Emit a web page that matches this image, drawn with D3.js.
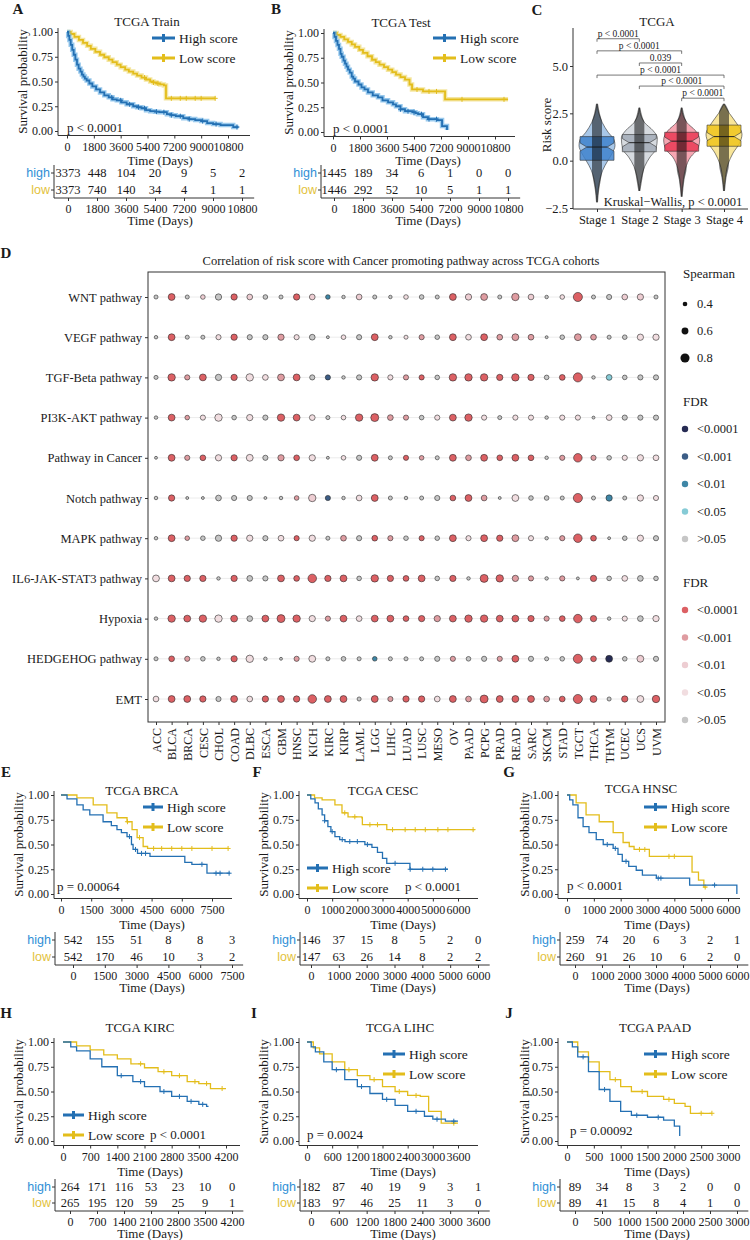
<!DOCTYPE html>
<html><head><meta charset="utf-8">
<script src="https://cdn.jsdelivr.net/npm/d3@7"></script>
<style>body{margin:0;background:#fff}svg{display:block}</style>
</head><body>
<svg id="fig" width="750" height="1240"></svg>
<script>
// ---------- survival data (time in days, survival) ----------
const ticksA=[0,1800,3600,5400,7200,9000,10800];
const highA=[[0,1],[80,0.96],[160,0.92],[250,0.87],[350,0.82],[450,0.77],[560,0.72],[670,0.67],[780,0.63],[900,0.6],[1000,0.57],[1100,0.55],[1200,0.53],[1320,0.51],[1500,0.48],[1700,0.45],[1950,0.42],[2215,0.39],[2500,0.36],[2800,0.34],[3050,0.32],[3340,0.31],[3650,0.29],[4000,0.27],[4440,0.25],[4700,0.24],[5000,0.23],[5300,0.21],[5580,0.2],[5900,0.195],[6200,0.19],[6700,0.17],[7000,0.16],[7300,0.15],[7800,0.13],[8200,0.12],[8600,0.11],[9000,0.1],[9400,0.08],[9800,0.07],[10300,0.06],[11150,0.04],[11500,0.04]];
const lowA=[[0,1],[250,0.98],[500,0.95],[800,0.92],[1075,0.89],[1350,0.86],[1600,0.83],[1900,0.8],[2215,0.77],[2500,0.745],[2800,0.72],[3050,0.695],[3340,0.67],[3600,0.645],[3900,0.62],[4150,0.6],[4440,0.58],[4700,0.56],[5000,0.54],[5300,0.52],[5580,0.5],[5800,0.49],[6000,0.48],[6250,0.47],[6500,0.46],[6640,0.33],[9940,0.33]];
const censHighA=[3000,3600,4200,4800,5200,6000,6500,7000,7600,8200,9100,10000,11400];
const censLowA=[5200,5800,6100,7000,7600,8000,8600,9000,9940];
const riskHighA=[3373,448,104,20,9,5,2], riskLowA=[3373,740,140,34,4,1,1];

const highB=[[0,1],[100,0.96],[200,0.92],[300,0.88],[400,0.84],[500,0.79],[580,0.76],[700,0.72],[800,0.69],[900,0.66],[1000,0.63],[1120,0.6],[1250,0.56],[1350,0.54],[1467,0.51],[1700,0.48],[1900,0.45],[2100,0.43],[2333,0.4],[2650,0.37],[3000,0.35],[3300,0.32],[3670,0.3],[4000,0.28],[4200,0.26],[4500,0.23],[4800,0.21],[5300,0.2],[5500,0.19],[5670,0.18],[6000,0.15],[6330,0.13],[6930,0.12],[7270,0.06],[7600,0.02]];
const lowB=[[0,1],[250,0.98],[500,0.96],[750,0.935],[1000,0.91],[1250,0.885],[1467,0.86],[1750,0.83],[2000,0.8],[2300,0.765],[2600,0.73],[2850,0.705],[3100,0.68],[3400,0.655],[3670,0.63],[3950,0.605],[4200,0.58],[4500,0.555],[4800,0.53],[5100,0.48],[5270,0.43],[6000,0.41],[6600,0.41],[7470,0.33],[11670,0.33]];
const censHighB=[4500,5000,5400,5900,6400,6900];
const censLowB=[5600,6400,6900,8600,11400];
const riskHighB=[1445,189,34,6,1,0,0], riskLowB=[1446,292,52,10,5,1,1];

const ticksE=[0,1500,3000,4500,6000,7500];
const highE=[[0,1],[300,0.96],[790,0.9],[1100,0.85],[1430,0.8],[2090,0.73],[2500,0.69],[2780,0.65],[3000,0.62],[3280,0.58],[3500,0.5],[3580,0.45],[3800,0.41],[4420,0.38],[6150,0.32],[6500,0.3],[7250,0.21],[8400,0.21]];
const lowE=[[0,1],[790,0.97],[1600,0.9],[2280,0.82],[2780,0.77],[3280,0.73],[3530,0.65],[3780,0.57],[4080,0.48],[4300,0.46],[8300,0.46]];
const censHighE=[3400,3700,4000,4200,7000,7700,7900,8350];
const censLowE=[3300,3900,4600,5000,5500,6000,6500,7500,8300];
const riskHighE=[542,155,51,8,8,3], riskLowE=[542,170,46,10,3,2];

const ticksF=[0,1000,2000,3000,4000,5000,6000];
const highF=[[0,1],[150,0.96],[320,0.92],[450,0.86],[600,0.8],[700,0.74],[830,0.68],[950,0.63],[1110,0.58],[1300,0.55],[1510,0.53],[2300,0.5],[2580,0.47],[2800,0.42],[3000,0.36],[3170,0.31],[4090,0.25],[5600,0.25]];
const lowF=[[0,1],[300,0.97],[600,0.95],[1110,0.9],[1390,0.82],[1630,0.78],[2180,0.77],[2200,0.7],[3170,0.65],[6670,0.65]];
const censHighF=[700,1000,1400,1700,2000,2400,3500,4100,4600,5000,5500];
const censLowF=[1500,1900,2500,2800,3400,3900,4300,4700,5200,5600,6600];
const riskHighF=[146,37,15,8,5,2,0], riskLowF=[147,63,26,14,8,2,2];

const ticksG=[0,1000,2000,3000,4000,5000,6000];
const highG=[[0,1],[100,0.95],[220,0.9],[410,0.77],[600,0.68],[820,0.62],[1090,0.55],[1350,0.5],[1720,0.46],[1900,0.4],[2060,0.33],[2300,0.28],[2580,0.24],[2810,0.19],[3330,0.16],[4570,0.09],[6330,0.09],[6330,0]];
const lowG=[[0,1],[340,0.92],[710,0.8],[1200,0.73],[1720,0.62],[2090,0.52],[2320,0.48],[2500,0.45],[3070,0.38],[4660,0.22],[4900,0.14],[5100,0.07],[5200,0.07]];
const censHighG=[1500,1800,2200,3400,3500,5500];
const censLowG=[2700,2900,3800,4000,5150];
const riskHighG=[259,74,20,6,3,2,1], riskLowG=[260,91,26,10,6,2,0];

const ticksH=[0,700,1400,2100,2800,3500,4200];
const highH=[[0,1],[200,0.95],[350,0.91],[700,0.83],[1000,0.75],[1400,0.66],[1800,0.6],[2100,0.55],[2500,0.5],[2800,0.45],[3200,0.4],[3500,0.37],[3700,0.35],[3750,0.35]];
const lowH=[[0,1],[350,0.96],[700,0.92],[1050,0.87],[1400,0.83],[1750,0.78],[2100,0.74],[2450,0.7],[2800,0.66],[3200,0.6],[3500,0.58],[3800,0.53],[4200,0.53]];
const censHighH=[1500,2000,2600,3000,3300,3600];
const censLowH=[2000,2600,3000,3400,3700,4100];
const riskHighH=[264,171,116,53,23,10,0], riskLowH=[265,195,120,59,25,9,1];

const ticksI=[0,600,1200,1800,2400,3000,3600];
const highI=[[0,1],[100,0.95],[200,0.9],[400,0.8],[600,0.72],[900,0.62],[1200,0.55],[1500,0.48],[1800,0.42],[2100,0.36],[2400,0.3],[2800,0.25],[3000,0.22],[3300,0.2],[3600,0.2]];
const lowI=[[0,1],[150,0.94],[300,0.88],[600,0.8],[900,0.72],[1200,0.66],[1500,0.62],[1800,0.55],[2100,0.5],[2400,0.46],[2700,0.45],[2900,0.3],[3200,0.18],[3600,0.18]];
const censHighI=[700,1300,1900,2600,3100,3500];
const censLowI=[1000,1600,2200,2600,3500];
const riskHighI=[182,87,40,19,9,3,1], riskLowI=[183,97,46,25,11,3,0];

const ticksJ=[0,500,1000,1500,2000,2500,3000];
const highJ=[[0,1],[100,0.95],[200,0.85],[400,0.7],[600,0.52],[800,0.4],[1000,0.3],[1200,0.26],[1500,0.24],[1800,0.21],[2000,0.15],[2100,0.05]];
const lowJ=[[0,1],[200,0.9],[400,0.8],[600,0.7],[800,0.62],[1000,0.55],[1200,0.5],[1500,0.45],[1800,0.42],[2000,0.38],[2200,0.35],[2300,0.28],[2700,0.28]];
const censHighJ=[300,700,1300,1700];
const censLowJ=[900,1400,1900,2500,2700];
const riskHighJ=[89,34,8,3,2,0,0], riskLowJ=[89,41,15,8,4,1,0];

// ---------- panel C ----------
const stages=["Stage 1","Stage 2","Stage 3","Stage 4"];
const stageColors=["#3f82cc","#a3acb9","#ea3a55","#f0c61c"];
const boxQ1=[0.02,0.47,0.5,0.76], boxMed=[0.72,0.95,1.03,1.27], boxQ3=[1.27,1.38,1.5,1.88];
const violinProfiles=[
  [[3.0,0],[2.5,0.1],[2.0,0.3],[1.5,0.62],[1.1,0.95],[0.8,1],[0.4,0.85],[0,0.6],[-0.5,0.32],[-1.0,0.16],[-1.5,0.07],[-2.2,0]],
  [[2.8,0],[2.3,0.12],[2.0,0.3],[1.6,0.75],[1.2,1],[0.6,0.92],[0.2,0.6],[-0.3,0.3],[-0.8,0.14],[-1.6,0]],
  [[2.8,0],[2.3,0.12],[2.0,0.3],[1.6,0.75],[1.1,1],[0.6,0.88],[0.2,0.5],[-0.4,0.22],[-1.0,0.1],[-1.9,0]],
  [[3.0,0],[2.5,0.3],[2.0,0.68],[1.4,1],[0.9,0.85],[0.4,0.5],[-0.2,0.22],[-0.9,0.08],[-1.6,0]]
];
const brackets=[[0,1,6.44,"p < 0.0001"],[0,2,5.8,"p < 0.0001"],[1,2,5.16,"0.039"],[0,3,4.52,"p < 0.0001"],[1,3,3.94,"p < 0.0001"],[2,3,3.3,"p < 0.0001"]];

// ---------- panel D ----------
const pathways=["WNT pathway","VEGF pathway","TGF-Beta pathway","PI3K-AKT pathway","Pathway in Cancer","Notch pathway","MAPK pathway","IL6-JAK-STAT3 pathway","Hypoxia","HEDGEHOG pathway","EMT"];
const cohorts=["ACC","BLCA","BRCA","CESC","CHOL","COAD","DLBC","ESCA","GBM","HNSC","KICH","KIRC","KIRP","LAML","LGG","LIHC","LUAD","LUSC","MESO","OV","PAAD","PCPG","PRAD","READ","SARC","SKCM","STAD","TGCT","THCA","THYM","UCEC","UCS","UVM"];
const rho=[
 [.35,.6,.35,.4,.55,.55,.5,.4,.35,.55,.5,.4,.3,.5,.35,.3,.4,.4,.35,.6,.55,.6,.35,.65,.5,.3,.4,.8,.35,.45,.5,.55,.35],
 [.3,.6,.35,.35,.45,.55,.45,.45,.55,.45,.5,.25,.4,.45,.6,.3,.35,.45,.4,.6,.5,.6,.5,.6,.5,.25,.4,.6,.5,.35,.4,.55,.55],
 [.35,.65,.45,.6,.55,.55,.65,.5,.6,.6,.45,.45,.3,.45,.65,.45,.45,.45,.4,.65,.65,.65,.55,.65,.55,.4,.5,.8,.3,.5,.4,.45,.45],
 [.3,.6,.4,.45,.65,.4,.55,.45,.65,.6,.5,.35,.4,.65,.7,.5,.45,.4,.45,.6,.65,.45,.35,.45,.45,.3,.45,.45,.25,.5,.45,.45,.45],
 [.25,.6,.45,.5,.55,.55,.6,.45,.55,.5,.55,.25,.4,.45,.6,.35,.45,.4,.35,.6,.5,.6,.5,.6,.5,.3,.45,.75,.45,.4,.45,.55,.5],
 [.3,.55,.25,.25,.5,.45,.45,.25,.3,.4,.65,.45,.3,.5,.6,.35,.3,.35,.45,.5,.6,.5,.25,.6,.4,.4,.35,.8,.35,.55,.35,.55,.45],
 [.3,.6,.4,.4,.55,.55,.55,.45,.5,.45,.55,.35,.5,.45,.5,.45,.4,.45,.4,.6,.45,.6,.55,.6,.45,.3,.45,.75,.5,.25,.4,.55,.45],
 [.6,.6,.55,.55,.3,.55,.5,.45,.6,.5,.75,.55,.6,.4,.65,.55,.5,.6,.4,.55,.3,.7,.65,.55,.45,.3,.45,.25,.55,.4,.5,.5,.4],
 [.3,.65,.6,.65,.65,.6,.5,.6,.7,.65,.55,.45,.6,.5,.6,.6,.5,.55,.55,.6,.65,.65,.6,.6,.55,.45,.5,.75,.55,.3,.45,.5,.55],
 [.35,.5,.45,.4,.3,.55,.65,.3,.25,.45,.6,.35,.4,.35,.4,.35,.35,.35,.45,.45,.4,.45,.45,.6,.45,.35,.4,.8,.5,.6,.4,.6,.45],
 [.5,.6,.6,.55,.45,.6,.5,.55,.6,.55,.75,.6,.6,.35,.6,.45,.55,.55,.5,.6,.5,.7,.6,.6,.6,.5,.5,.8,.6,.35,.55,.6,.65]
];
const fdr=[
 "g r1 g r3 g r1 r3 g g r1 r3 b3 g r3 g g r4 g g r1 r3 r2 g r2 r3 g r4 r1 g g r3 r3 g",
 "g r1 g g r4 r1 g g r2 r4 g g r4 g r1 g r4 r2 g r1 r4 r1 r2 r2 r2 g g r2 r2 g g r4 r4",
 "g r1 r2 r1 g r1 r4 r4 r2 r1 g b2 g g r1 r4 r2 r1 g r1 r1 r1 r1 r1 r1 g r1 r1 g b4 g g g",
 "g r1 r2 r4 r4 g r4 g r1 r1 r4 g r4 r1 r1 r2 r2 g r4 r1 r1 r4 g r4 r4 g r4 r4 g r4 g g g",
 "g r1 r2 r1 r4 r1 r4 g r2 r1 r4 g r4 g r1 g r1 r2 g r1 r2 r1 r1 r1 r1 g r2 r1 r2 g r4 r4 r4",
 "g r1 g g g g g g g r2 r3 b2 g r4 r1 g g g g r1 r1 r2 g r4 g g g r1 g b3 g r4 r4",
 "g r1 r2 g g r1 r4 g r4 r1 r4 g r2 g r1 r2 g r1 g r1 r4 r1 r1 r2 r4 g r2 r1 r1 g g r4 g",
 "r4 r1 r1 r1 g r1 g g r1 r1 r1 r1 r1 g r1 r1 r1 r1 g r1 g r1 r1 r2 r2 g r2 g r1 g r4 g g",
 "g r1 r1 r1 r4 r1 g r1 r1 r1 r4 r2 r1 r4 r1 r1 r1 r1 r2 r1 r1 r1 r1 r1 r1 r2 r1 r1 r1 g r4 g r4",
 "g r1 r2 g g r1 r4 g g r2 r4 g g g b3 g g g g r2 g g r2 r1 g g g r1 r1 b1 g r3 g",
 "r4 r1 r1 r1 g r1 r4 r1 r1 r1 r1 r1 r1 g r1 r2 r1 r1 r4 r1 r2 r1 r1 r1 r1 r2 r1 r1 r1 g r1 r4 r1"
].map(s=>s.split(" "));
const spearLegend=[0.4,0.6,0.8];
const fdrLabels=["<0.0001","<0.001","<0.01","<0.05",">0.05"];

// ---------- drawing ----------
const svg=d3.select("#fig");
const SERIF='"Liberation Serif","Times New Roman",serif';
const SANS='"Liberation Sans",Arial,sans-serif';
const BLUE="#2470b3", YEL="#e3bd1b", BLUE_T="#2f8fd6", YEL_T="#e3c23c";
const ink="#1a1a1a";

function txt(x,y,s,o={}){
  return svg.append("text").attr("x",x).attr("y",y).text(s)
    .attr("font-family",o.ff||SERIF).attr("font-size",o.fs||12)
    .attr("font-weight",o.fw||null).attr("fill",o.fill||ink)
    .attr("text-anchor",o.a||"start").attr("dominant-baseline","central")
    .attr("transform",o.rot?`rotate(-90,${x},${y})`:null);
}
function styleAxis(g,fs){
  g.select(".domain").remove();
  g.selectAll("line").attr("stroke","#333");
  g.selectAll("text").attr("font-family",SERIF).attr("font-size",fs||12).attr("fill",ink);
}
function sAt(c,t){let s=1;for(const d of c){if(d[0]<=t)s=d[1];else break;}return s;}

function km(p){
  const g=svg.append("g");
  const tmax=p.ticks[p.ticks.length-1];
  const x=d3.scaleLinear().domain([0,tmax]).range([p.x0,p.x1]);
  const y=d3.scaleLinear().domain([0,1]).range([p.yb,p.yt]);
  const ay=p.yb+4.5;
  g.append("line").attr("x1",p.ax).attr("x2",p.ax).attr("y1",p.yt-4).attr("y2",ay).attr("stroke","#333");
  g.append("line").attr("x1",p.ax).attr("x2",p.xr).attr("y1",ay).attr("y2",ay).attr("stroke","#333");
  g.append("g").attr("transform",`translate(${p.ax},0)`)
    .call(d3.axisLeft(y).tickValues([0,.25,.5,.75,1]).tickFormat(d3.format(".2f")).tickSize(3).tickPadding(2))
    .call(a=>styleAxis(a));
  g.append("g").attr("transform",`translate(0,${ay})`)
    .call(d3.axisBottom(x).tickValues(p.ticks).tickFormat(d3.format("d")).tickSize(3).tickPadding(4))
    .call(a=>styleAxis(a));
  txt(p.ylx,(p.yt+p.yb)/2,"Survival probability",{fs:13,a:"middle",rot:true});
  txt(p.labX,p.labY,"Time (Days)",{fs:13,a:"middle"});
  txt(p.titleX,p.titleY,p.title,{fs:13,a:"middle"});
  const line=d3.line().curve(d3.curveStepAfter).x(d=>x(d[0])).y(d=>y(d[1]));
  [[p.low,YEL,p.censLow,"#f0dc7c"],[p.high,BLUE,p.censHigh,"#6fb3e6"]].forEach(([c,col,cens,halo])=>{
    if(p.halo) g.append("path").attr("d",line(c)).attr("fill","none").attr("stroke",halo).attr("stroke-width",4.5).attr("opacity",0.7);
    g.append("path").attr("d",line(c)).attr("fill","none").attr("stroke",col).attr("stroke-width",p.lw||1.3);
    g.append("path").attr("fill","none").attr("stroke",col).attr("stroke-width",1)
      .attr("d",cens.map(t=>{const cx=x(t),cy=y(sAt(c,t));return `M${cx-2.5},${cy}H${cx+2.5}M${cx},${cy-2.5}V${cy+2.5}`;}).join(""));
  });
  // legend
  [[BLUE,"High score",p.leg.y1],[YEL,"Low score",p.leg.y2]].forEach(([col,s,ly])=>{
    const m=(p.leg.x1+p.leg.x2)/2;
    g.append("path").attr("d",`M${p.leg.x1},${ly}H${p.leg.x2}M${m},${ly-4}V${ly+4}`).attr("stroke",col).attr("stroke-width",3);
    txt(p.leg.x2+4,ly,s,{fs:13.5});
  });
  txt(p.px,p.py,p.pval,{fs:13});
  // risk table
  const t=p.tab;
  const xt=d3.scaleLinear().domain([0,tmax]).range([t.x0,t.x1]);
  const tay=t.yl+8;
  g.append("line").attr("x1",t.lx).attr("x2",t.lx).attr("y1",t.yh-8).attr("y2",tay).attr("stroke","#333");
  g.append("line").attr("x1",t.lx).attr("x2",t.x1+(t.x1-t.x0)*0.07).attr("y1",tay).attr("y2",tay).attr("stroke","#333");
  g.append("g").attr("transform",`translate(0,${tay})`)
    .call(d3.axisBottom(xt).tickValues(p.ticks).tickFormat(d3.format("d")).tickSize(3).tickPadding(3))
    .call(a=>styleAxis(a));
  [[p.riskHigh,t.yh,"high",BLUE_T],[p.riskLow,t.yl,"low",YEL_T]].forEach(([r,ry,lab,col])=>{
    g.append("line").attr("x1",t.lx-3).attr("x2",t.lx).attr("y1",ry).attr("y2",ry).attr("stroke","#333");
    txt(t.lx-4,ry,lab,{ff:SANS,fs:12.5,a:"end",fill:col});
    r.forEach((v,i)=>txt(xt(p.ticks[i]),ry,v,{fs:12.5,a:"middle"}));
  });
  txt(p.labX2||p.labX,tay+22,"Time (Days)",{fs:13,a:"middle"});
}

// panel letters
[["A",18,9],["B",276,9],["C",537,10],["D",6,253],["E",6,772],["F",257,772],["G",509,772],["H",6,1013],["I",254,1013],["J",509,1013]]
  .forEach(([s,x,y])=>txt(x,y,s,{fs:15,fw:"bold",a:"middle"}));

km({ticks:ticksA,high:highA,low:lowA,censHigh:censHighA,censLow:censLowA,riskHigh:riskHighA,riskLow:riskLowA,halo:true,lw:1.8,
  ax:58,x0:67,x1:228,xr:250,yt:32,yb:131,ylx:22,labX:160,labY:160,title:"TCGA Train",titleX:147,titleY:21,
  leg:{x1:152,x2:175,y1:38,y2:58},pval:"p < 0.0001",px:67,py:127,
  tab:{lx:54,x0:68,x1:242,yh:173,yl:190}});
km({ticks:ticksA,high:highB,low:lowB,censHigh:censHighB,censLow:censLowB,riskHigh:riskHighB,riskLow:riskLowB,halo:true,lw:1.8,
  ax:324,x0:333,x1:495,xr:515,yt:33,yb:132,ylx:288,labX:428,labY:160,title:"TCGA Test",titleX:401,titleY:22,
  leg:{x1:433,x2:456,y1:38,y2:58},pval:"p < 0.0001",px:333,py:128,
  tab:{lx:321,x0:334,x1:508,yh:173,yl:190}});
km({ticks:ticksE,high:highE,low:lowE,censHigh:censHighE,censLow:censLowE,riskHigh:riskHighE,riskLow:riskLowE,
  ax:54,x0:61,x1:212,xr:232,yt:795,yb:894,ylx:18,labX:152,labY:924,title:"TCGA BRCA",titleX:142,titleY:790,
  leg:{x1:143,x2:163,y1:807,y2:827},pval:"p = 0.00064",px:57,py:886,
  tab:{lx:55,x0:73,x1:232,yh:940,yl:957}});
km({ticks:ticksF,high:highF,low:lowF,censHigh:censHighF,censLow:censLowF,riskHigh:riskHighF,riskLow:riskLowF,halo:false,
  ax:299,x0:307,x1:458,xr:478,yt:795,yb:894,ylx:263,labX:403,labY:924,title:"TCGA CESC",titleX:383,titleY:790,
  leg:{x1:307,x2:328,y1:868,y2:888},pval:"p < 0.0001",px:405,py:886,
  tab:{lx:300,x0:311,x1:478,yh:940,yl:957}});
km({ticks:ticksG,high:highG,low:lowG,censHigh:censHighG,censLow:censLowG,riskHigh:riskHighG,riskLow:riskLowG,
  ax:558,x0:567,x1:728,xr:740,yt:795,yb:894,ylx:524,labX:657,labY:924,title:"TCGA HNSC",titleX:641,titleY:788,
  leg:{x1:644,x2:667,y1:807,y2:827},pval:"p < 0.0001",px:567,py:885,
  tab:{lx:560,x0:575,x1:737,yh:940,yl:957}});
km({ticks:ticksH,high:highH,low:lowH,censHigh:censHighH,censLow:censLowH,riskHigh:riskHighH,riskLow:riskLowH,
  ax:54,x0:63,x1:226,xr:240,yt:1042,yb:1141,ylx:18,labX:150,labY:1171,title:"TCGA KIRC",titleX:140,titleY:1027,
  leg:{x1:63,x2:84,y1:1115,y2:1135},pval:"p < 0.0001",px:150,py:1134,
  tab:{lx:55,x0:70,x1:232,yh:1187,yl:1203}});
km({ticks:ticksI,high:highI,low:lowI,censHigh:censHighI,censLow:censLowI,riskHigh:riskHighI,riskLow:riskLowI,
  ax:299,x0:307,x1:458,xr:478,yt:1042,yb:1141,ylx:263,labX:403,labY:1171,title:"TCGA LIHC",titleX:400,titleY:1027,
  leg:{x1:383,x2:405,y1:1054,y2:1074},pval:"p = 0.0024",px:307,py:1134,
  tab:{lx:300,x0:311,x1:478,yh:1187,yl:1203}});
km({ticks:ticksJ,high:highJ,low:lowJ,censHigh:censHighJ,censLow:censLowJ,riskHigh:riskHighJ,riskLow:riskLowJ,
  ax:558,x0:567,x1:728,xr:740,yt:1042,yb:1141,ylx:524,labX:657,labY:1171,title:"TCGA PAAD",titleX:655,titleY:1027,
  leg:{x1:644,x2:667,y1:1054,y2:1074},pval:"p = 0.00092",px:570,py:1130,
  tab:{lx:560,x0:575,x1:737,yh:1187,yl:1203}});

// ---------- panel C ----------
(function(){
  const g=svg.append("g");
  const y=d3.scaleLinear().domain([-2.5,5]).range([208,66]);
  const x=d3.scalePoint().domain(stages).range([597,724]);
  g.append("line").attr("x1",573).attr("x2",573).attr("y1",28).attr("y2",209).attr("stroke","#333");
  g.append("line").attr("x1",573).attr("x2",748).attr("y1",209).attr("y2",209).attr("stroke","#333");
  g.append("g").attr("transform","translate(573,0)").call(d3.axisLeft(y).tickValues([-2.5,0,2.5,5]).tickFormat(d3.format(".1f")).tickSize(3).tickPadding(2)).call(a=>styleAxis(a,12.5));
  g.append("g").attr("transform","translate(0,209)").call(d3.axisBottom(x).tickSize(3).tickPadding(3)).call(a=>styleAxis(a,12.5));
  txt(546,125,"Risk score",{fs:13,a:"middle",rot:true});
  txt(657,21,"TCGA",{fs:13,a:"middle"});
  const maxW=18, bw=17;
  stages.forEach((s,i)=>{
    const cx=x(s), col=stageColors[i], prof=violinProfiles[i];
    const area=d3.area().curve(d3.curveMonotoneY).y(d=>y(d[0])).x0(d=>cx-d[1]*maxW).x1(d=>cx+d[1]*maxW);
    g.append("path").attr("d",area(prof)).attr("fill",col).attr("fill-opacity",0.45).attr("stroke","#333").attr("stroke-width",0.6);
    const q1=y(boxQ1[i]),q3=y(boxQ3[i]),m=y(boxMed[i]),n=0.22*18.9;
    g.append("path").attr("d",`M${cx-bw},${q3}H${cx+bw}V${m-n}L${cx+bw*0.6},${m}L${cx+bw},${m+n}V${q1}H${cx-bw}V${m+n}L${cx-bw*0.6},${m}L${cx-bw},${m-n}Z`)
      .attr("fill",col).attr("fill-opacity",0.85).attr("stroke","#333").attr("stroke-width",0.6);
    g.append("line").attr("x1",cx-bw*0.6).attr("x2",cx+bw*0.6).attr("y1",m).attr("y2",m).attr("stroke","#222").attr("stroke-width",1);
    const jit=d3.area().curve(d3.curveMonotoneY).y(d=>y(d[0])).x0(d=>cx-Math.min(5,d[1]*maxW+1)).x1(d=>cx+Math.min(5,d[1]*maxW+1));
    g.append("path").attr("d",jit(prof)).attr("fill","#111").attr("fill-opacity",0.55);
  });
  brackets.forEach(([a,b,v,lab])=>{
    const x1=x(stages[a]),x2=x(stages[b]),yy=y(v);
    g.append("path").attr("d",`M${x1},${yy+3}V${yy}H${x2}V${yy+3}`).attr("fill","none").attr("stroke","#555").attr("stroke-width",0.8);
    txt((x1+x2)/2,yy-5,lab,{fs:9.5,a:"middle"});
  });
  txt(673,202,"Kruskal\u2212Wallis, p < 0.0001",{fs:12.5,a:"middle"});
})();

// ---------- panel D ----------
(function(){
  const g=svg.append("g");
  const x=d3.scalePoint().domain(cohorts).range([156,656]);
  const y=d3.scalePoint().domain(pathways).range([297,699]);
  const r=d3.scaleLinear().domain([0.2,0.9]).range([1.2,5.1]);
  const col={r1:"#dc6064",r2:"#df9ca1",r3:"#edcdd2",r4:"#f1dde0",g:"#c6c6c6",b1:"#262b53",b2:"#3c5d86",b3:"#3e86a6",b4:"#86cbd6"};
  txt(401,261,"Correlation of risk score with Cancer promoting pathway across TCGA cohorts",{fs:12.5,a:"middle"});
  pathways.forEach(pw=>g.append("line").attr("x1",156).attr("x2",656).attr("y1",y(pw)).attr("y2",y(pw)).attr("stroke","#ececec"));
  rho.forEach((row,i)=>row.forEach((v,j)=>{
    g.append("circle").attr("cx",x(cohorts[j])).attr("cy",y(pathways[i])).attr("r",r(v))
      .attr("fill",col[fdr[i][j]]).attr("stroke","#2a2a2a").attr("stroke-width",0.6);
  }));
  g.append("rect").attr("x",148).attr("y",272).attr("width",517).attr("height",450).attr("fill","none").attr("stroke","#333");
  g.append("g").attr("transform","translate(148,0)").call(d3.axisLeft(y).tickSize(3).tickPadding(3)).call(a=>styleAxis(a,12.5));
  g.append("g").attr("transform","translate(0,722)").call(d3.axisBottom(x).tickSize(3).tickPadding(3)).call(a=>styleAxis(a,12))
    .selectAll("text").attr("transform","rotate(-90)").attr("text-anchor","end").attr("dy","0.35em").attr("x",-6).attr("y",0);
  // legends
  txt(683,273,"Spearman",{fs:13});
  spearLegend.forEach((v,i)=>{g.append("circle").attr("cx",685).attr("cy",304+i*27).attr("r",r(v)).attr("fill","#111");txt(697,304+i*27,v.toFixed(1),{fs:12.5});});
  txt(683,401,"FDR",{fs:13});
  ["b1","b2","b3","b4","g"].forEach((k,i)=>{g.append("circle").attr("cx",685).attr("cy",429+i*27.5).attr("r",3.2).attr("fill",col[k]);txt(697,429+i*27.5,fdrLabels[i],{fs:12.5});});
  txt(683,582,"FDR",{fs:13});
  ["r1","r2","r3","r4","g"].forEach((k,i)=>{g.append("circle").attr("cx",685).attr("cy",610+i*27.5).attr("r",3.2).attr("fill",col[k]);txt(697,610+i*27.5,fdrLabels[i],{fs:12.5});});
})();
</script>
</body></html>
